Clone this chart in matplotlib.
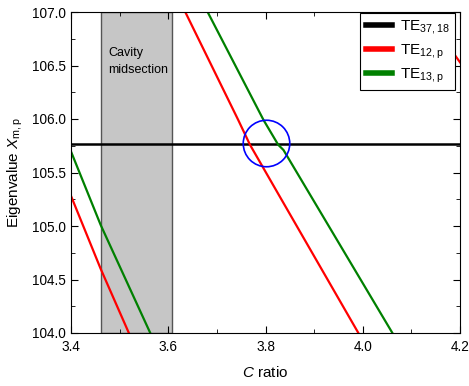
import numpy as np
import matplotlib
matplotlib.use("Agg")
import matplotlib.pyplot as plt
from matplotlib.ticker import MultipleLocator, FormatStrFormatter

plt.rcParams['font.family'] = 'Liberation Sans'
plt.rcParams['mathtext.fontset'] = 'custom'
plt.rcParams['mathtext.rm'] = 'Liberation Sans'
plt.rcParams['mathtext.it'] = 'Liberation Sans:italic'

# values
te37_level = 105.766

te12_left_x = [3.401, 3.461, 3.519]
te12_left_y = [105.27, 104.60, 104.0]
te12_mid_x = [3.635, 3.744, 3.768, 3.830, 3.991]
te12_mid_y = [107.0, 105.99, 105.76, 105.27, 104.0]
te12_right_x = [4.126, 4.2]
te12_right_y = [107.0, 106.53]

te13_left_x = [3.401, 3.461, 3.563]
te13_left_y = [105.685, 105.01, 104.0]
te13_mid_x = [3.681, 3.796, 3.826, 3.837, 4.061]
te13_mid_y = [107.0, 105.99, 105.76, 105.71, 104.0]

band = (3.461, 3.608)
circle_center = (3.801, 105.773)

fig = plt.figure(figsize=(4.69, 3.86), dpi=100)
ax = fig.add_axes([71/469, 1-333/386, 389/469, 321/386])

ax.axvspan(band[0], band[1], facecolor='#c6c6c6', edgecolor='#555555', lw=1, zorder=0)
ax.text(3.476, 106.54, "Cavity\nmidsection", fontsize=9, va='center', ha='left',
        linespacing=1.55)

l1, = ax.plot([3.4, 4.2], [te37_level, te37_level], color='black', lw=1.8)
l2, = ax.plot(te12_mid_x, te12_mid_y, color='red', lw=1.6)
ax.plot(te12_left_x, te12_left_y, color='red', lw=1.6)
ax.plot(te12_right_x, te12_right_y, color='red', lw=1.6)
l3, = ax.plot(te13_mid_x, te13_mid_y, color='green', lw=1.6)
ax.plot(te13_left_x, te13_left_y, color='green', lw=1.6)

ax.plot([circle_center[0]], [circle_center[1]], marker='o', ms=33.5, mfc='none',
        mec='blue', mew=1.2, zorder=5)

ax.set_xlim(3.4, 4.2)
ax.set_ylim(104.0, 107.0)
ax.xaxis.set_major_locator(MultipleLocator(0.2))
ax.xaxis.set_minor_locator(MultipleLocator(0.1))
ax.yaxis.set_major_locator(MultipleLocator(0.5))
ax.yaxis.set_minor_locator(MultipleLocator(0.25))
ax.tick_params(which='both', direction='in', top=True, right=True, labelsize=9.8)
ax.tick_params(which='major', length=5)
ax.tick_params(which='minor', length=3)
ax.tick_params(axis='x', pad=5)
ax.xaxis.set_major_formatter(FormatStrFormatter('%.1f'))
ax.yaxis.set_major_formatter(FormatStrFormatter('%.1f'))

ax.set_xlabel("$C$ ratio", fontsize=11, labelpad=8)
ax.set_ylabel("Eigenvalue $X_{\\mathrm{m,p}}$", fontsize=11, labelpad=5)

leg = ax.legend([l1, l2, l3], ["TE$_{\\mathrm{37,18}}$", "TE$_{\\mathrm{12,p}}$",
                               "TE$_{\\mathrm{13,p}}$"],
                loc='upper right', bbox_to_anchor=(0.987, 0.997),
                fontsize=11, frameon=True, fancybox=False,
                edgecolor='black', framealpha=1, borderaxespad=0,
                borderpad=0.35, handlelength=1.75, handletextpad=0.5,
                labelspacing=0.4)
leg.get_frame().set_linewidth(0.8)
for h in leg.legend_handles:
    h.set_linewidth(4)
leg.set_zorder(10)

fig.savefig("out.png", dpi=100)
